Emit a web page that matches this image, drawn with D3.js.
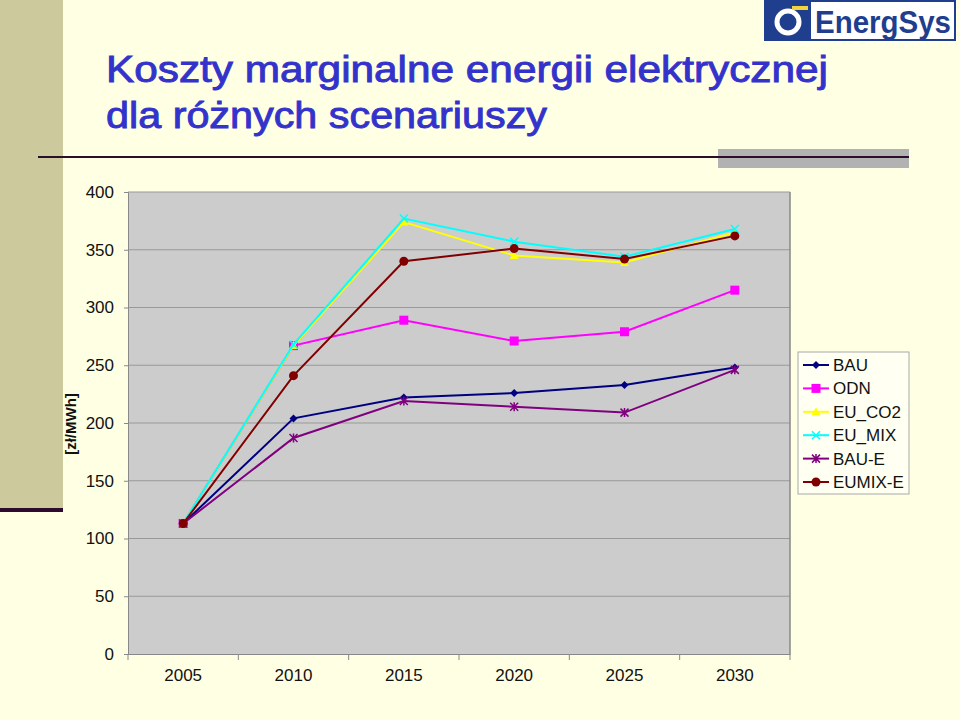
<!DOCTYPE html>
<html><head><meta charset="utf-8">
<script src="https://cdn.jsdelivr.net/npm/d3@7"></script>
<style>body{margin:0;background:#FFFFE3;}svg{display:block;font-family:"Liberation Sans",Arial,sans-serif;}</style>
</head><body>
<script>
const years = ["2005","2010","2015","2020","2025","2030"];
const yTicks = [0,50,100,150,200,250,300,350,400];
const seriesNames = ["BAU","ODN","EU_CO2","EU_MIX","BAU-E","EUMIX-E"];
const BAU     = [113,204,222,226,233,248];
const ODN     = [113,267,289,271,279,315];
const EU_CO2  = [113,267,374,345,339,365];
const EU_MIX  = [113,268,377,357,344,368];
const BAU_E   = [113,187,219,214,209,246];
const EUMIX_E = [113,241,340,351,342,362];
const seriesValues = [BAU,ODN,EU_CO2,EU_MIX,BAU_E,EUMIX_E];
const colors = ["#000080","#FF00FF","#FFFF00","#00FFFF","#800080","#800000"];
const markers = ["diamond","square","triangle","x","asterisk","circle"];
const titleLines = ["Koszty marginalne energii elektrycznej","dla różnych scenariuszy"];
const yLabel = "[zł/MWh]";

const W=960,H=720;
const svg=d3.select("body").append("svg").attr("width",W).attr("height",H);
svg.append("rect").attr("width",W).attr("height",H).attr("fill","#FFFFE3");

// decorative left bar
svg.append("rect").attr("x",0).attr("y",0).attr("width",63).attr("height",510).attr("fill","#CCC99C");
svg.append("rect").attr("x",0).attr("y",508).attr("width",63).attr("height",4).attr("fill","#2E0A2E");
// gray bar + line
svg.append("rect").attr("x",718).attr("y",149).attr("width",191).attr("height",19).attr("fill","#B2B2B2");
svg.append("line").attr("x1",38).attr("x2",909).attr("y1",157).attr("y2",157).attr("stroke","#2A0E2A").attr("stroke-width",2);

// title
svg.append("text").attr("x",106).attr("y",82).attr("fill","#3333CC").attr("stroke","#3333CC").attr("stroke-width",0.9).attr("font-size",36)
  .attr("textLength",722).attr("lengthAdjust","spacingAndGlyphs").text(titleLines[0]);
svg.append("text").attr("x",106).attr("y",128).attr("fill","#3333CC").attr("stroke","#3333CC").attr("stroke-width",0.9).attr("font-size",36)
  .attr("textLength",441).attr("lengthAdjust","spacingAndGlyphs").text(titleLines[1]);

// logo
const logo=svg.append("g");
logo.append("rect").attr("x",765).attr("y",1).attr("width",190).attr("height",39).attr("fill","#ffffff").attr("stroke","#1F3E8E").attr("stroke-width",2);
logo.append("rect").attr("x",765).attr("y",1).attr("width",46).attr("height",39).attr("fill","#1F3E8E");
logo.append("circle").attr("cx",788).attr("cy",22).attr("r",11).attr("fill","none").attr("stroke","#ffffff").attr("stroke-width",5);
logo.append("rect").attr("x",792).attr("y",6).attr("width",16).attr("height",4).attr("fill","#F2D33A");
logo.append("text").attr("x",815).attr("y",33).attr("fill","#1F3E8E").attr("font-size",31).attr("font-weight","bold")
  .attr("textLength",136).attr("lengthAdjust","spacingAndGlyphs").text("EnergSys");

// plot
const L=128,R=790,T=192,B=654;
const x=d3.scaleBand().domain(years).range([L,R]);
const y=d3.scaleLinear().domain([0,400]).range([B,T]);
svg.append("rect").attr("x",L).attr("y",T).attr("width",R-L).attr("height",B-T).attr("fill","#CCCCCC");
svg.append("g").selectAll("line").data(yTicks.filter(d=>d>0)).join("line")
  .attr("x1",L).attr("x2",R).attr("y1",d=>y(d)).attr("y2",d=>y(d)).attr("stroke","#999999").attr("stroke-width",1);
svg.append("line").attr("x1",R).attr("x2",R).attr("y1",T).attr("y2",B).attr("stroke","#888888").attr("stroke-width",1.5);

const yAxis=svg.append("g").attr("transform",`translate(${L},0)`)
  .call(d3.axisLeft(y).tickValues(yTicks).tickSize(4).tickPadding(10));
yAxis.select(".domain").attr("stroke","#888888");
yAxis.selectAll(".tick line").attr("stroke","#888888");
yAxis.selectAll("text").attr("font-size",17).attr("fill","#111").attr("font-family","Liberation Sans, Arial, sans-serif");

const xAxis=svg.append("g").attr("transform",`translate(0,${B})`)
  .call(d3.axisBottom(x).tickSize(0).tickPadding(15));
xAxis.select(".domain").attr("stroke","#888888");
xAxis.selectAll("text").attr("font-size",17).attr("fill","#111").attr("font-family","Liberation Sans, Arial, sans-serif");
svg.append("g").selectAll("line").data(d3.range(years.length+1)).join("line")
  .attr("x1",i=>L+i*x.step()).attr("x2",i=>L+i*x.step()).attr("y1",B).attr("y2",B+6).attr("stroke","#888888");

svg.append("text").attr("transform","translate(76,424) rotate(-90)").attr("text-anchor","middle")
  .attr("font-size",15).attr("font-weight","bold").attr("fill","#111").text(yLabel);

function drawMarker(g,type,cx,cy,color){
  if(type==="diamond"){g.append("path").attr("d",`M${cx},${cy-4}L${cx+4},${cy}L${cx},${cy+4}L${cx-4},${cy}Z`).attr("fill",color);}
  else if(type==="square"){g.append("rect").attr("x",cx-4.5).attr("y",cy-4.5).attr("width",9).attr("height",9).attr("fill",color);}
  else if(type==="triangle"){g.append("path").attr("d",`M${cx},${cy-4.5}L${cx+4.5},${cy+3.5}L${cx-4.5},${cy+3.5}Z`).attr("fill",color);}
  else if(type==="x"){g.append("path").attr("d",`M${cx-4},${cy-4}L${cx+4},${cy+4}M${cx-4},${cy+4}L${cx+4},${cy-4}`).attr("stroke",color).attr("stroke-width",1.5);}
  else if(type==="asterisk"){g.append("path").attr("d",`M${cx-4},${cy-4}L${cx+4},${cy+4}M${cx-4},${cy+4}L${cx+4},${cy-4}M${cx},${cy-4.5}L${cx},${cy+4.5}`).attr("stroke",color).attr("stroke-width",1.5);}
  else if(type==="circle"){g.append("circle").attr("cx",cx).attr("cy",cy).attr("r",4.5).attr("fill",color);}
}

const line=d3.line().x((d,i)=>x(years[i])+x.bandwidth()/2).y(d=>y(d));
seriesValues.forEach((vals,si)=>{
  const g=svg.append("g");
  g.append("path").datum(vals).attr("d",line).attr("fill","none").attr("stroke",colors[si]).attr("stroke-width",2);
  vals.forEach((v,i)=>drawMarker(g,markers[si],x(years[i])+x.bandwidth()/2,y(v),colors[si]));
});

// legend
const lg=svg.append("g");
lg.append("rect").attr("x",798).attr("y",352).attr("width",111).attr("height",142).attr("fill","#FFFFF2").attr("stroke","#AAAAAA");
seriesNames.forEach((n,i)=>{
  const yy=365+i*23.4;
  const g=lg.append("g");
  g.append("line").attr("x1",803).attr("x2",829).attr("y1",yy).attr("y2",yy).attr("stroke",colors[i]).attr("stroke-width",2);
  drawMarker(g,markers[i],816,yy,colors[i]);
  g.append("text").attr("x",833).attr("y",yy+6).attr("font-size",17).attr("fill","#111").text(n);
});
</script>
</body></html>
